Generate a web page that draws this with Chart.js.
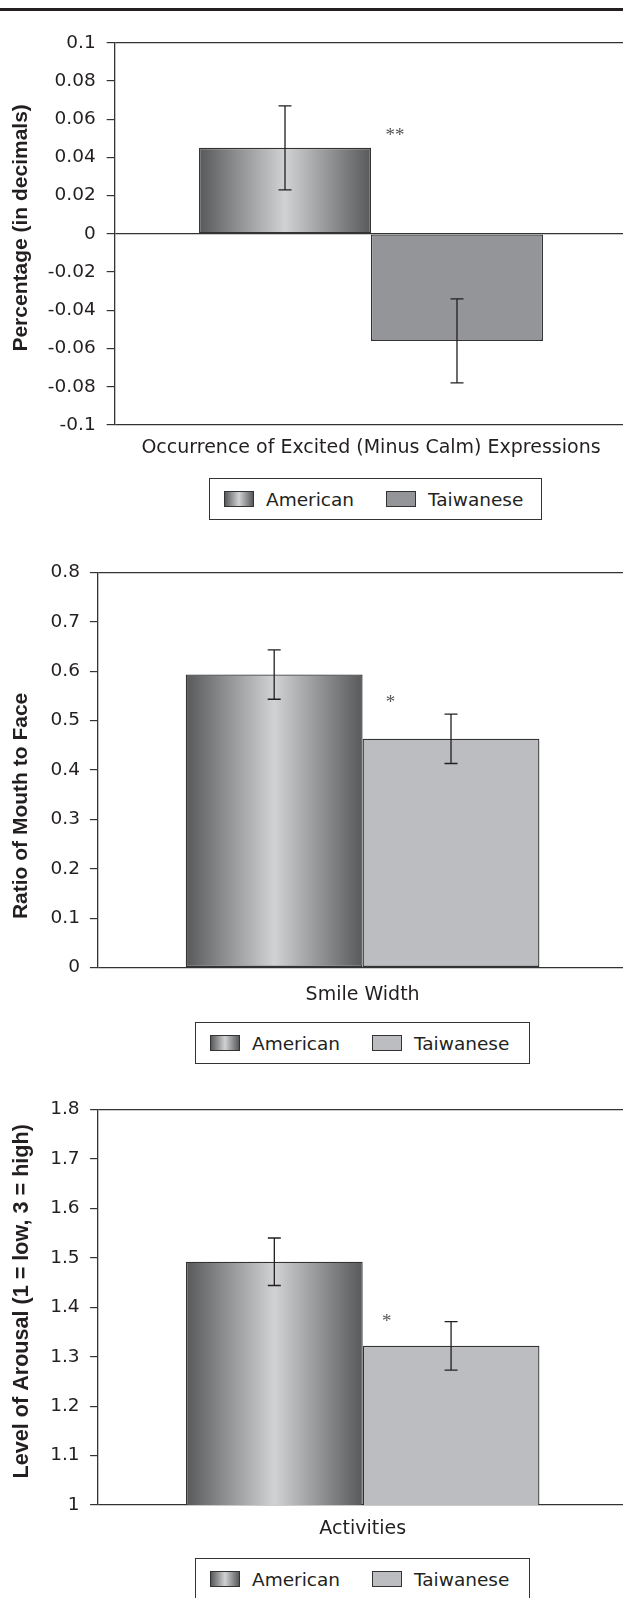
<!DOCTYPE html>
<html>
<head>
<meta charset="utf-8">
<script src="https://cdn.jsdelivr.net/npm/chart.js@4.4.1/dist/chart.umd.min.js"></script>
<style>
html, body { margin: 0; padding: 0; background: #fff; overflow: hidden; width: 623px; height: 1598px; }
#rule { position: absolute; left: 0; top: 8px; width: 623px; height: 3px; background: #231f20; }
canvas { position: absolute; left: 0; }
.legend { position: absolute; box-sizing: border-box; border: 1.3px solid #333; display: flex; align-items: center;
  padding-left: 14px; font: 18.5px "DejaVu Sans"; color: #231f20; height: 42px; }
.sw { display: inline-block; width: 30px; height: 16px; box-sizing: border-box; border: 1px solid #333; margin-right: 12px; }
.lt { margin-right: 32px; }
.lt:last-child { margin-right: 0; }
</style>
</head>
<body>
<div id="rule"></div>
<canvas id="c1" width="630" height="445" style="top:20px"></canvas>
<div class="legend" id="l1" style="left:209px;top:478px;width:333px"></div>
<canvas id="c2" width="630" height="468" style="top:545px"></canvas>
<div class="legend" id="l2" style="left:195px;top:1022px;width:335px"></div>
<canvas id="c3" width="630" height="468" style="top:1082px"></canvas>
<div class="legend" id="l3" style="left:195px;top:1558px;width:335px"></div>

<script>
var seriesNames = ['American', 'Taiwanese'];

// panel 1
var excitedCats = ['Occurrence of Excited (Minus Calm) Expressions'];
var excitedAmerican = [0.045];
var excitedTaiwanese = [-0.056];
var excitedErrAmerican = [0.022];
var excitedErrTaiwanese = [0.022];
var excitedTicks = ['-0.1', '-0.08', '-0.06', '-0.04', '-0.02', '0', '0.02', '0.04', '0.06', '0.08', '0.1'];

// panel 2
var smileCats = ['Smile Width'];
var smileAmerican = [0.593];
var smileTaiwanese = [0.463];
var smileErrAmerican = [0.05];
var smileErrTaiwanese = [0.05];
var smileTicks = ['0', '0.1', '0.2', '0.3', '0.4', '0.5', '0.6', '0.7', '0.8'];

// panel 3
var arousalCats = ['Activities'];
var arousalAmerican = [1.492];
var arousalTaiwanese = [1.322];
var arousalErrAmerican = [0.048];
var arousalErrTaiwanese = [0.049];
var arousalTicks = ['1', '1.1', '1.2', '1.3', '1.4', '1.5', '1.6', '1.7', '1.8'];

var sigMarks = ['**', '*', '*'];
var sigLevels = [0.054, 0.545, 1.38];

var ink = '#231f20';
var gradStops = ['#58595b', '#d1d2d4', '#58595b'];

function americanFill(ctx) {
  var chart = ctx.chart;
  var xs = chart.scales.x;
  if (!chart.chartArea || !xs) return '#9a9b9d';
  var cx = xs.getPixelForValue(ctx.dataIndex);
  var bw = xs.width * chart.options.datasets.bar.categoryPercentage / 2;
  var g = chart.ctx.createLinearGradient(cx - bw, 0, cx, 0);
  g.addColorStop(0, gradStops[0]);
  g.addColorStop(0.5, gradStops[1]);
  g.addColorStop(1, gradStops[2]);
  return g;
}

var errorBars = {
  id: 'errorBars',
  afterDatasetsDraw: function(chart, args, opts) {
    var ctx = chart.ctx, y = chart.scales.y;
    chart.data.datasets.forEach(function(ds, di) {
      chart.getDatasetMeta(di).data.forEach(function(bar, i) {
        var v = ds.data[i], e = opts.errs[di][i];
        var t = y.getPixelForValue(v + e), b = y.getPixelForValue(v - e);
        ctx.save();
        ctx.strokeStyle = ink;
        ctx.lineWidth = 1.3;
        ctx.beginPath();
        ctx.moveTo(bar.x, t); ctx.lineTo(bar.x, b);
        ctx.moveTo(bar.x - 6.5, t); ctx.lineTo(bar.x + 6.5, t);
        ctx.moveTo(bar.x - 6.5, b); ctx.lineTo(bar.x + 6.5, b);
        ctx.stroke();
        ctx.restore();
      });
    });
  }
};

var sigMark = {
  id: 'sigMark',
  afterDatasetsDraw: function(chart, args, opts) {
    var ctx = chart.ctx;
    var x = chart.scales.x.getPixelForValue(0) + opts.dx;
    var y = chart.scales.y.getPixelForValue(opts.value);
    ctx.save();
    ctx.fillStyle = '#555';
    ctx.font = '19px "Liberation Serif"';
    ctx.textAlign = 'center';
    ctx.textBaseline = 'alphabetic';
    ctx.fillText(opts.text, x, y + 10);
    ctx.restore();
  }
};

// y axis title, drawn a little off the plot's middle as in the original
var sideTitle = {
  id: 'sideTitle',
  afterDraw: function(chart, args, opts) {
    var ctx = chart.ctx, a = chart.chartArea;
    ctx.save();
    ctx.translate(21.6, (a.top + a.bottom) / 2 + opts.dy);
    ctx.rotate(-Math.PI / 2);
    ctx.fillStyle = ink;
    ctx.font = 'bold ' + opts.size + 'px "Liberation Sans"';
    ctx.textAlign = 'center';
    ctx.textBaseline = 'middle';
    ctx.fillText(opts.text, 0, 0);
    ctx.restore();
  }
};

function makeChart(id, cats, am, tw, errAm, errTw, twColor, min, max, step, tickLabels, yTitle, lay, sigIdx) {
  var lastIdx = tickLabels.length - 1;
  return new Chart(document.getElementById(id), {
    type: 'bar',
    data: {
      labels: cats,
      datasets: [
        { label: seriesNames[0], data: am, backgroundColor: americanFill, borderColor: '#333', borderWidth: 1.3, borderSkipped: false },
        { label: seriesNames[1], data: tw, backgroundColor: twColor, borderColor: '#333', borderWidth: 1.3, borderSkipped: false }
      ]
    },
    options: {
      responsive: false,
      animation: false,
      datasets: { bar: { categoryPercentage: lay.catPct, barPercentage: 1 } },
      layout: { padding: { left: 0, top: lay.padTop, right: 2.7, bottom: 0 } },
      plugins: {
        legend: { display: false },
        tooltip: { enabled: false },
        errorBars: { errs: [errAm, errTw] },
        sigMark: { text: sigMarks[sigIdx], value: sigLevels[sigIdx], dx: lay.sigDx },
        sideTitle: { text: yTitle, dy: lay.titleDy, size: lay.titleSize }
      },
      scales: {
        x: {
          grid: { display: false, drawTicks: false },
          border: { display: false },
          ticks: { color: ink, padding: lay.xPad, font: { family: 'DejaVu Sans', size: 19 } },
          afterFit: function(s) { s.height = lay.xH; }
        },
        y: {
          min: min, max: max,
          ticks: {
            stepSize: step, color: ink, padding: lay.tickPad,
            font: { family: 'DejaVu Sans', size: 18.5 },
            callback: function(v, i) { return tickLabels[i]; }
          },
          grid: {
            drawTicks: true, tickLength: 8, tickColor: '#333', lineWidth: 1.2,
            color: function(c) {
              if (c.index === 0 || c.index === lastIdx || Math.abs(c.tick.value) < 1e-9) return '#333';
              return 'rgba(0,0,0,0)';
            }
          },
          border: { display: true, color: '#333', width: 1.3 },
          title: { display: false },
          afterFit: function(s) { s.width = lay.axisX; }
        }
      }
    },
    plugins: [errorBars, sigMark, sideTitle]
  });
}

function makeLegend(id, twColor) {
  var el = document.getElementById(id);
  var fills = ['linear-gradient(to right, ' + gradStops.join(', ') + ')', twColor];
  seriesNames.forEach(function(n, i) {
    var sw = document.createElement('span');
    sw.className = 'sw';
    sw.style.background = fills[i];
    var t = document.createElement('span');
    t.className = 'lt';
    t.textContent = n;
    el.appendChild(sw);
    el.appendChild(t);
  });
}

makeChart('c1', excitedCats, excitedAmerican, excitedTaiwanese, excitedErrAmerican, excitedErrTaiwanese,
  '#939598', -0.1, 0.1, 0.02, excitedTicks, 'Percentage (in decimals)',
  { axisX: 114.7, catPct: 0.671, padTop: 22.7, xH: 40, xPad: 12, tickPad: 11, sigDx: 24, titleDy: -6, titleSize: 21 }, 0);
makeLegend('l1', '#939598');

makeChart('c2', smileCats, smileAmerican, smileTaiwanese, smileErrAmerican, smileErrTaiwanese,
  '#bcbdc0', 0, 0.8, 0.1, smileTicks, 'Ratio of Mouth to Face',
  { axisX: 97.9, catPct: 0.668, padTop: 27.3, xH: 45.5, xPad: 16, tickPad: 10, sigDx: 28, titleDy: 36, titleSize: 21 }, 1);
makeLegend('l2', '#bcbdc0');

makeChart('c3', arousalCats, arousalAmerican, arousalTaiwanese, arousalErrAmerican, arousalErrTaiwanese,
  '#bcbdc0', 1, 1.8, 0.1, arousalTicks, 'Level of Arousal (1 = low, 3 = high)',
  { axisX: 98.1, catPct: 0.668, padTop: 27.4, xH: 44.9, xPad: 13, tickPad: 10.5, sigDx: 24, titleDy: -6, titleSize: 21.6 }, 2);
makeLegend('l3', '#bcbdc0');
</script>
</body>
</html>
